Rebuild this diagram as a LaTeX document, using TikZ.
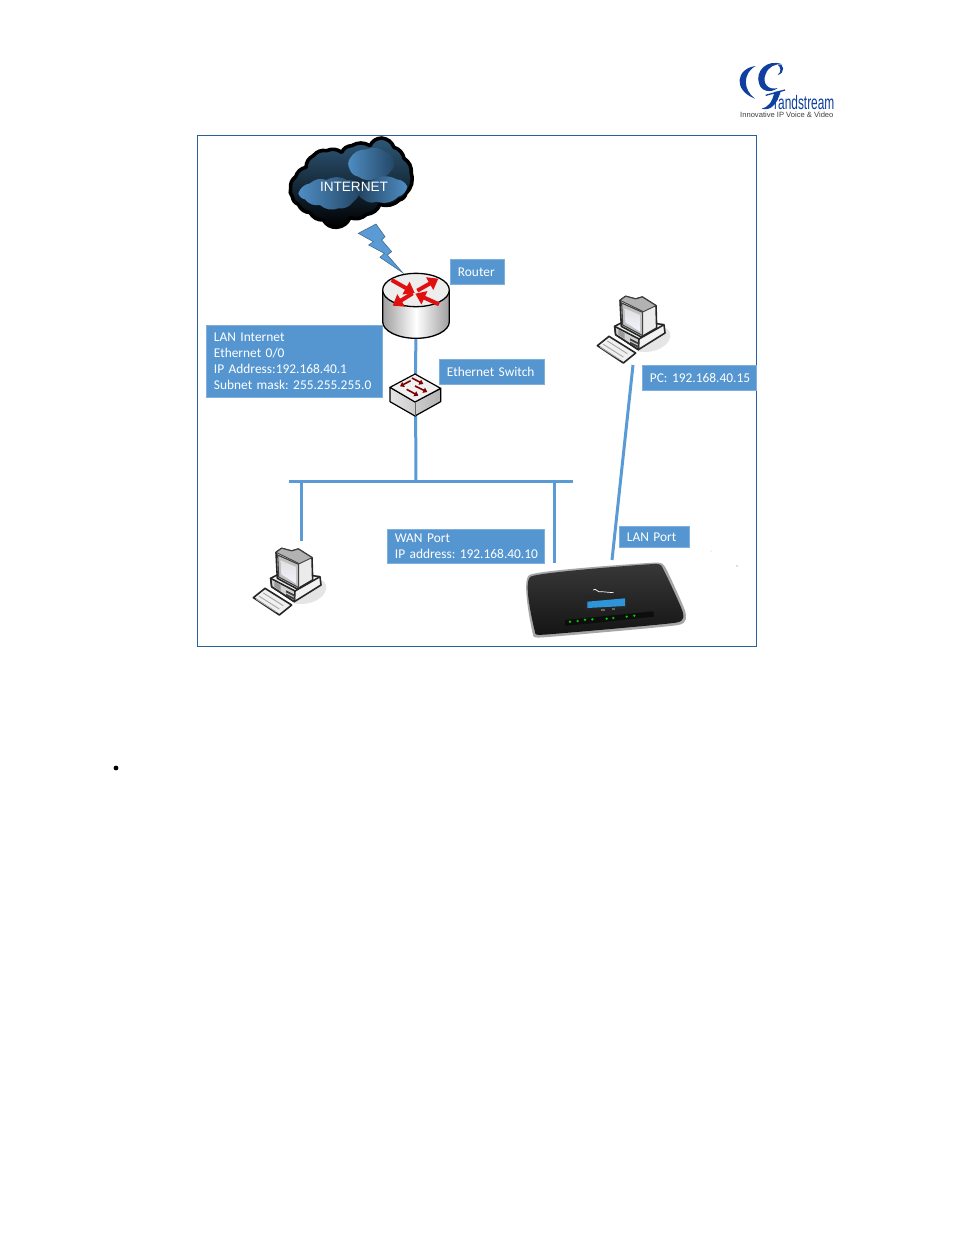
\documentclass[tikz,border=0pt]{standalone}
\usepackage{fontspec}
\setmainfont{Carlito}
\newfontfamily\arialf{Liberation Sans}
\usetikzlibrary{arrows.meta,calc}
\definecolor{lblue}{HTML}{5B9BD5}
\definecolor{boxfill}{HTML}{5596D0}
\definecolor{boxedge}{HTML}{7FAFDC}
\definecolor{framec}{HTML}{2A6099}
\definecolor{gsblue}{HTML}{0F3F9F}
\definecolor{cloudtop}{HTML}{2E5878}
\definecolor{cloudmid}{HTML}{17334C}
\definecolor{patchA}{HTML}{4F8DC4}
\definecolor{patchB}{HTML}{234563}
\definecolor{routerred}{HTML}{E01010}
\tikzset{
 wire/.style={draw=lblue,line width=3pt},
 lbl/.style={fill=boxfill,draw=boxedge,line width=0.8pt,text=white,anchor=north west,align=left,inner xsep=7.5pt,inner ysep=0pt,font=\fontsize{13.4}{16}\selectfont},
 redarrow/.style={draw=routerred,line width=4pt,-{Triangle[length=10pt,width=14pt]}},
 swarrow/.style={draw=red!50!black,line width=1.6pt,-{Triangle[length=4pt,width=5.5pt]}},
 pcline/.style={draw=black!85,line width=1.6pt,line join=round},
 pcicon/.pic={
  \begin{scope}[scale=1/3]
   \fill[black!10] (160,205) .. controls (215,215) and (265,185) .. (258,150) .. controls (250,130) and (235,135) .. (225,140) -- cycle;
   % base
   \filldraw[pcline,fill=black!5] (92,130) -- (130,110) -- (240,125) -- (243,150) -- (163,200) -- (95,155) -- cycle;
   \filldraw[pcline,fill=black!18] (92,130) -- (165,168) -- (163,200) -- (95,155) -- cycle;
   \draw[pcline] (165,168) -- (240,125);
   \fill[black!75] (138,166) -- (166,180) -- (166,186) -- (138,172) -- cycle;
   \fill[black!75] (138,176) -- (166,190) -- (166,196) -- (138,182) -- cycle;
   \fill[black!40] (103,140) -- (122,150) -- (122,168) -- (103,155) -- cycle;
   % monitor
   \filldraw[pcline,fill=black!8] (125,40) -- (155,48) -- (175,42) -- (216,68) -- (218,135) -- (172,162) -- (112,130) -- (108,52) -- cycle;
   \filldraw[draw=black!75,line width=0.9pt,fill=black!30] (108,52) -- (125,40) -- (155,48) -- (175,42) -- (216,68) -- (178,86) -- cycle;
   \filldraw[draw=black!75,line width=1.1pt,fill=black!25] (113,60) -- (176,88) -- (176,158) -- (116,126) -- cycle;
   \shade[top color=black!12,bottom color=blue!5] (122,76) -- (168,96) -- (168,146) -- (124,118) -- cycle;
   % keyboard
   \filldraw[pcline,fill=black!6] (40,188) -- (75,160) -- (155,210) -- (118,240) -- cycle;
   \draw[black!35,line width=0.9pt] (58,184) -- (118,222) (70,174) -- (130,212) (48,192) -- (108,230);
  \end{scope}
 }
}
\begin{document}
\begin{tikzpicture}[x=1pt,y=-1pt]
\frenchspacing
\fill[white] (0,0) rectangle (954,1235);
\useasboundingbox (0,0) rectangle (954,1235);

% ---- logo
\begin{scope}[shift={(735,60)},scale=1/3]
 \fill[gsblue] (62,18) .. controls (4,25) and (-8,90) .. (60,116) .. controls (24,90) and (22,40) .. cycle;
 \fill[gsblue] (142,13) .. controls (95,-5) and (60,35) .. (72,70) .. controls (78,95) and (108,100) .. (128,84) .. controls (100,92) and (80,70) .. (92,42) .. controls (100,20) and (122,10) .. cycle;
 \fill[gsblue] (128,14) .. controls (150,10) and (150,40) .. (128,45) .. controls (140,35) and (138,22) .. cycle;
 \fill[gsblue] (138,92) .. controls (128,125) and (112,155) .. (80,146) .. controls (98,142) and (112,128) .. (118,96) -- cycle;
 \fill[gsblue] (92,104) -- (150,88) -- (150,92) -- (92,108) -- cycle;
\end{scope}
\node[inner sep=0pt,anchor=base west,text=gsblue] (logoname) at (774,109.5)
 {\arialf\scalebox{0.70}[1.15]{\fontsize{17}{17}\selectfont randstream}};
\node[inner sep=0pt,anchor=base west,text=black!75] (logotag) at (740,117.5)
 {\arialf\fontsize{7.6}{8}\selectfont Innovative IP Voice \& Video};

% ---- frame
\draw[framec,line width=0.9pt] (197.5,135) rectangle (756.5,646.5);

% ---- connector end points
\coordinate (routerc) at (416,306);
\coordinate (switchc) at (415.5,395);
\coordinate (busj) at (416,481);
\coordinate (busL) at (289,481);
\coordinate (busR) at (573,481);
\coordinate (dropAtop) at (301,481);
\coordinate (dropAend) at (301,541);
\coordinate (dropBtop) at (554,481);
\coordinate (dropBend) at (554,563);
\coordinate (pcwireA) at (633,365);
\coordinate (pcwireB) at (612,560);

\draw[wire] (routerc) -- (switchc);
\draw[wire] (switchc) -- (busj);
\draw[wire] (busL) -- (busR);
\draw[wire] (dropAtop) -- (dropAend);
\draw[wire] (dropBtop) -- (dropBend);
\draw[wire] (pcwireA) -- (pcwireB);

% ---- cloud
\begin{scope}[shift={(270,130)},scale=1/3]
 \path[draw=black,line width=3.6pt,line join=round,top color=cloudtop,middle color=cloudmid,bottom color=black]
  (62,175) to[bend left=30] (77,140) to[bend left=30] (108,112) to[bend left=30] (130,77) to[bend left=30] (170,62) to[bend left=30] (215,67) to[bend left=30] (245,47) to[bend left=30] (300,47) to[bend left=30] (335,24) to[bend left=30] (372,52) to[bend left=30] (402,85) to[bend left=30] (424,130) to[bend left=30] (408,190) to[bend left=30] (388,210) to[bend left=30] (330,223) to[bend left=30] (290,253) to[bend left=30] (240,263) to[bend left=30] (200,292) to[bend left=30] (160,270) to[bend left=30] (120,248) to[bend left=30] (85,223) to[bend left=30] (67,200) to[bend left=30] (62,175) -- cycle;
 \shade[left color=patchA,right color=patchB]
  (240,85) to[bend left=30] (290,58) to[bend left=30] (345,65) to[bend left=30] (372,90) to[bend left=30] (365,120) to[bend left=30] (320,145) to[bend left=30] (265,140) to[bend left=30] (238,115) to[bend left=30] (240,85) -- cycle;
 \shade[left color=patchA,right color=patchB]
  (85,190) to[bend left=30] (120,160) to[bend left=30] (170,150) to[bend left=30] (230,150) to[bend left=30] (270,170) to[bend left=30] (250,215) to[bend left=30] (205,235) to[bend left=30] (150,225) to[bend left=30] (105,208) to[bend left=30] (85,190) -- cycle;
 \shade[left color=patchB,right color=patchA]
  (265,190) to[bend left=30] (310,150) to[bend left=30] (380,148) to[bend left=30] (412,170) to[bend left=30] (385,200) to[bend left=30] (320,215) to[bend left=30] (280,208) to[bend left=30] (265,190) -- cycle;
 % bolt
 \filldraw[fill=lblue,draw=lblue!70!black,line width=0.6pt,line join=miter]
  (265,310) -- (318,282) -- (345,320) -- (335,330) -- (365,365) -- (352,375) -- (398,428) -- (330,382) -- (343,370) -- (296,345) -- (310,335) -- cycle;
\end{scope}
\node[inner sep=0pt,text=white,font=\arialf\fontsize{13.6}{14}\selectfont] (internet) at (354,186.5) {INTERNET};

% ---- router
\begin{scope}[shift={(370,260)},scale=1/3]
 \path[left color=black!38,right color=black!38,middle color=white,draw=black,line width=1.3pt]
  (38,90) -- (38,185) arc[start angle=180,end angle=0,x radius=100,y radius=50] -- (238,90) -- cycle;
 \filldraw[fill=black!7,draw=black,line width=1.3pt] (138,90) ellipse[x radius=100,y radius=50];
 \draw[redarrow] (65,60) -- (134,99);
 \draw[redarrow] (142,92) -- (205,56);
 \draw[redarrow] (128,100) -- (68,137);
 \draw[redarrow] (207,133) -- (136,101);
\end{scope}

% ---- switch
\begin{scope}[shift={(370,260)},scale=1/3]
 \path[left color=black!10,right color=black!30,draw=black,line width=1.2pt,line join=round]
  (60,382) -- (60,425) -- (135,468) -- (212,425) -- (212,385) -- (135,425) -- cycle;
 \filldraw[fill=black!6,draw=black,line width=1.2pt,line join=round] (135,342) -- (212,385) -- (135,426) -- (60,382) -- cycle;
 \draw[black!60,line width=0.6pt] (135,426) -- (135,468);
 \draw[swarrow] (122,362) -- (90,379);
 \draw[swarrow] (126,354) -- (160,372);
 \draw[swarrow] (110,388) -- (145,407);
 \draw[swarrow] (135,378) -- (172,396);
\end{scope}

% ---- labels
\node[lbl,minimum width=54pt,minimum height=25pt,text width=39pt] (routerlbl) at (450,259) {Router};
\node[lbl,minimum width=176pt,minimum height=72pt,text width=161pt] (lanlbl) at (206,325) {LAN Internet\\Ethernet 0/0\\IP Address:192.168.40.1\\Subnet mask: 255.255.255.0};
\node[lbl,minimum width=105pt,minimum height=25pt,text width=90pt] (swlbl) at (439,359) {Ethernet Switch};
\node[lbl,minimum width=114pt,minimum height=25pt,text width=99pt] (pclbl) at (642,365) {\mbox{PC: 192.168.40.15}};
\node[lbl,minimum width=157pt,minimum height=34pt,text width=142pt] (wanlbl) at (387,529) {WAN Port\\\mbox{IP address: 192.168.40.10}};
\node[lbl,minimum width=70pt,minimum height=21pt,text width=55pt] (lanportlbl) at (619,526) {LAN Port};

% ---- PCs
\pic (pcA) at (240,535) {pcicon};
\pic (pcB) at (584,283) {pcicon};

% ---- gateway device
\begin{scope}[shift={(510,540)},scale=1/3]
 \fill[black!35] plot[smooth cycle,tension=0.25] coordinates {(58,105) (430,68) (466,82) (526,215) (505,255) (100,292) (68,280)};
 \path[top color=black!78,bottom color=black!92]
  plot[smooth cycle,tension=0.25] coordinates {(62,110) (430,72) (460,88) (518,215) (498,248) (102,284) (74,272)};
 \fill[black!85] (225,168) -- (348,166) -- (350,206) -- (225,210) -- cycle;
 \fill[cyan!70!blue!85!white] (232,185) -- (345,175) -- (345,198) -- (232,204) -- cycle;
 \draw[white,line width=0.7pt,line cap=round] (250,150) .. controls (258,142) and (262,160) .. (275,155) -- (310,158);
 \fill[black!95] (165,240) -- (430,214) -- (432,230) -- (165,258) -- cycle;
 \foreach \lx/\ly in {180/245,203/243,225/239,247/238,290/236,310/234,350/230,373/227}
  \fill[green!80!black] (\lx,\ly) circle[radius=4];
 \fill[black!60] (274,208) rectangle (284,214);
 \fill[black!60] (306,205) rectangle (316,211);
\end{scope}
\fill[black!50] (737,566) circle[radius=0.6];
\fill[black!25] (711,551) circle[radius=0.5];

% ---- bullet
\fill[black] (116,768) circle[radius=2.4];
\end{tikzpicture}
\end{document}
